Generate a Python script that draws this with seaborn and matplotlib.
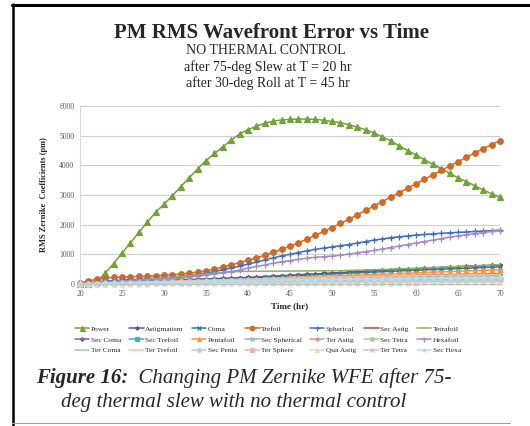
import matplotlib
matplotlib.use("Agg")
import matplotlib.pyplot as plt
import seaborn as sns
from matplotlib.lines import Line2D

# ==========================================================
# DATA (one value per hour, t = 20..70)
# ==========================================================
hours = list(range(20, 71))

power = [0, 0, 80, 370, 690, 1040, 1390, 1740, 2080, 2420,
         2690, 2980, 3280, 3580, 3880, 4160, 4400, 4620, 4850, 5060,
         5200, 5320, 5420, 5490, 5530, 5550, 5560, 5560, 5550, 5520,
         5480, 5440, 5370, 5290, 5200, 5090, 4960, 4820, 4660, 4500,
         4350, 4190, 4040, 3890, 3730, 3580, 3450, 3310, 3170, 3040,
         2920]
astigmatism = [0, 15, 30, 45, 60, 70, 80, 90, 100, 110,
               120, 130, 140, 150, 160, 170, 180, 190, 200, 210,
               220, 235, 250, 265, 280, 295, 310, 325, 340, 355,
               370, 385, 400, 415, 430, 445, 460, 475, 490, 505,
               515, 530, 545, 555, 570, 580, 595, 605, 615, 625,
               635]
coma = [0, 10, 20, 30, 40, 50, 60, 70, 80, 90,
        100, 110, 120, 130, 140, 150, 160, 170, 180, 190,
        200, 215, 230, 245, 260, 275, 290, 300, 315, 325,
        340, 350, 365, 375, 390, 400, 415, 425, 440, 450,
        460, 475, 485, 495, 510, 520, 530, 545, 555, 565,
        575]
trefoil = [30, 100, 160, 200, 220, 235, 245, 255, 265, 275,
           290, 310, 335, 365, 400, 440, 500, 570, 640, 720,
           800, 880, 970, 1070, 1170, 1270, 1390, 1510, 1640, 1770,
           1900, 2040, 2180, 2330, 2480, 2630, 2780, 2930, 3080, 3230,
           3380, 3530, 3680, 3830, 3980, 4120, 4270, 4420, 4560, 4700,
           4830]
spherical = [10, 40, 70, 95, 115, 130, 145, 160, 175, 190,
             205, 225, 250, 280, 320, 360, 420, 480, 540, 600,
             670, 740, 810, 880, 950, 1000, 1060, 1120, 1170, 1210,
             1250, 1290, 1330, 1380, 1430, 1480, 1520, 1560, 1590, 1620,
             1650, 1670, 1690, 1710, 1725, 1740, 1755, 1770, 1785, 1800,
             1815]
sec_astig = [0, 5, 10, 20, 30, 40, 50, 55, 60, 65,
             70, 75, 80, 85, 90, 95, 100, 110, 120, 130,
             140, 150, 160, 170, 180, 190, 200, 205, 210, 220,
             230, 235, 240, 250, 255, 260, 270, 275, 280, 290,
             295, 300, 305, 310, 315, 320, 325, 330, 335, 340,
             345]
tetrafoil = [0, 20, 40, 60, 80, 100, 120, 140, 160, 180,
             200, 225, 250, 280, 310, 340, 370, 395, 410, 420,
             425, 428, 430, 432, 434, 436, 438, 440, 442, 444,
             446, 450, 458, 466, 474, 482, 492, 502, 512, 522,
             532, 544, 556, 568, 580, 592, 604, 616, 628, 640,
             652]
sec_coma = [0, 5, 15, 25, 35, 45, 50, 55, 60, 65,
            70, 75, 80, 85, 90, 95, 100, 105, 110, 115,
            120, 125, 130, 135, 140, 145, 150, 152, 155, 158,
            160, 163, 166, 169, 172, 175, 177, 179, 181, 183,
            185, 187, 189, 191, 193, 195, 197, 199, 201, 203,
            205]
sec_trefoil = [0, 10, 20, 30, 40, 50, 55, 60, 65, 70,
               75, 80, 85, 90, 95, 100, 108, 116, 124, 132,
               140, 146, 152, 158, 164, 170, 176, 182, 188, 194,
               200, 204, 208, 212, 216, 220, 224, 228, 232, 236,
               240, 243, 246, 249, 252, 255, 258, 261, 264, 267,
               270]
pentafoil = [0, 10, 20, 30, 40, 45, 50, 55, 60, 70,
             80, 85, 90, 100, 110, 120, 130, 140, 145, 150,
             160, 170, 185, 200, 210, 220, 230, 240, 250, 260,
             270, 280, 290, 300, 310, 320, 330, 345, 355, 365,
             380, 390, 400, 410, 420, 430, 440, 450, 460, 470,
             480]
sec_spherical = [0, 10, 18, 26, 34, 40, 45, 50, 55, 60,
                 65, 70, 75, 80, 85, 90, 96, 102, 108, 114,
                 120, 126, 132, 138, 144, 150, 155, 160, 165, 170,
                 175, 178, 181, 184, 187, 190, 193, 196, 199, 202,
                 205, 208, 211, 214, 217, 220, 223, 226, 229, 232,
                 235]
ter_astig = [0, 5, 10, 15, 20, 25, 30, 33, 36, 39,
             42, 45, 48, 51, 54, 57, 60, 64, 68, 72,
             76, 80, 84, 88, 92, 96, 100, 103, 106, 109,
             112, 115, 118, 121, 124, 127, 130, 132, 134, 136,
             138, 140, 142, 144, 146, 148, 150, 152, 154, 156,
             158]
sec_tetra = [0, 4, 8, 12, 16, 20, 24, 27, 30, 33,
             36, 39, 42, 45, 48, 51, 54, 57, 60, 63,
             66, 69, 72, 75, 78, 81, 84, 86, 88, 90,
             92, 94, 96, 98, 100, 102, 104, 106, 108, 110,
             112, 114, 116, 118, 120, 122, 124, 126, 128, 130,
             132]
hexafoil = [10, 30, 50, 70, 85, 100, 110, 120, 130, 145,
            160, 180, 200, 230, 260, 300, 340, 380, 420, 470,
            540, 590, 640, 700, 750, 790, 830, 870, 900, 920,
            940, 970, 1010, 1050, 1090, 1130, 1180, 1230, 1280, 1330,
            1380, 1430, 1480, 1530, 1580, 1620, 1660, 1700, 1735, 1770,
            1800]
ter_coma = [0, 8, 16, 24, 32, 40, 46, 52, 58, 64,
            70, 76, 82, 88, 94, 100, 106, 112, 118, 124,
            130, 136, 142, 148, 154, 160, 165, 170, 175, 180,
            185, 189, 193, 197, 201, 205, 209, 213, 217, 221,
            225, 228, 231, 234, 237, 240, 243, 246, 249, 252,
            255]
ter_trefoil = [0, 10, 20, 30, 40, 50, 58, 66, 74, 82,
               90, 97, 104, 111, 118, 125, 133, 141, 149, 157,
               165, 172, 179, 186, 193, 200, 207, 214, 221, 228,
               235, 240, 245, 250, 255, 260, 265, 270, 275, 280,
               285, 289, 293, 297, 301, 305, 309, 313, 317, 321,
               325]
sec_penta = [0, 6, 12, 18, 24, 30, 35, 40, 45, 50,
             55, 60, 65, 70, 75, 80, 85, 90, 95, 100,
             105, 110, 115, 120, 125, 130, 134, 138, 142, 146,
             150, 153, 156, 159, 162, 165, 168, 171, 174, 177,
             180, 182, 184, 186, 188, 190, 192, 194, 196, 198,
             200]
ter_sphere = [0, 3, 6, 9, 12, 15, 18, 21, 24, 27,
              30, 32, 34, 36, 38, 40, 42, 44, 46, 48,
              50, 52, 54, 56, 58, 60, 62, 64, 66, 68,
              70, 71, 72, 73, 74, 75, 76, 77, 78, 79,
              80, 81, 82, 83, 84, 85, 86, 87, 88, 89,
              90]
qua_astig = [0, 2, 4, 6, 8, 10, 12, 14, 16, 18,
             20, 21, 22, 23, 24, 25, 26, 27, 28, 29,
             30, 31, 32, 33, 34, 35, 36, 37, 38, 39,
             40, 41, 42, 43, 44, 45, 46, 47, 48, 49,
             50, 51, 52, 53, 54, 55, 56, 57, 58, 59,
             60]
ter_tetra = [0, 4, 8, 12, 16, 20, 24, 28, 32, 36,
             40, 43, 46, 49, 52, 55, 58, 61, 64, 67,
             70, 73, 76, 79, 82, 85, 88, 91, 94, 97,
             100, 102, 104, 106, 108, 110, 112, 114, 116, 118,
             120, 122, 124, 126, 128, 130, 132, 134, 136, 138,
             140]
sec_hexa = [0, 6, 12, 18, 24, 30, 36, 42, 48, 54,
            60, 65, 70, 75, 80, 85, 90, 95, 100, 105,
            110, 115, 120, 125, 130, 135, 140, 145, 150, 155,
            160, 163, 166, 169, 172, 175, 178, 181, 184, 187,
            190, 193, 196, 199, 202, 205, 208, 211, 214, 217,
            220]

series_names = ["Power", "Astigmatism", "Coma", "Trefoil", "Spherical", "Sec Astig", "Tetrafoil",
                "Sec Coma", "Sec Trefoil", "Pentafoil", "Sec Spherical", "Ter Astig", "Sec Tetra", "Hexafoil",
                "Ter Coma", "Ter Trefoil", "Sec Penta", "Ter Sphere", "Qua Astig", "Ter Tetra", "Sec Hexa"]
series_values = [power, astigmatism, coma, trefoil, spherical, sec_astig, tetrafoil,
                 sec_coma, sec_trefoil, pentafoil, sec_spherical, ter_astig, sec_tetra, hexafoil,
                 ter_coma, ter_trefoil, sec_penta, ter_sphere, qua_astig, ter_tetra, sec_hexa]

# styles
series_colors = ["#73A13B", "#6A4C9C", "#2A7C98", "#CF6B27", "#3F6FC0", "#B8423F", "#8DB552",
                 "#8064A2", "#4BACC6", "#F79646", "#95B3D7", "#D99694", "#B5D08A", "#A58BC6",
                 "#93CDDD", "#FAC090", "#B9CDE5", "#E6B9B8", "#D7E4BD", "#CCC1DA", "#B7DEE8"]
series_markers = ["^", "*", "x", "o", "+", None, None,
                  "D", "s", "^", "x", "*", "o", "+",
                  None, None, "D", "s", "^", "x", "*"]
series_msize = [4.5, 3.5, 3, 4, 4.5, 0, 0,
                2.5, 3, 3.5, 3, 3.5, 3.5, 4.5,
                0, 0, 3, 3, 3.5, 3, 3.5]

sns.set_style("white")
plt.rcParams["font.family"] = ["Liberation Serif", "DejaVu Serif"]

W, H = 530, 426
fig = plt.figure(figsize=(W / 100, H / 100), dpi=100)
ax = fig.add_axes([80 / W, 1 - 284 / H, 420 / W, 178 / H])

handles = []
for name, vals, col, mk, ms in zip(series_names, series_values, series_colors,
                                   series_markers, series_msize):
    kw = dict(linewidth=1.1, color=col)
    if mk is not None:
        kw.update(marker=mk, markersize=ms, markeredgecolor=col,
                  markerfacecolor=col, markeredgewidth=0.9)
    sns.lineplot(x=hours, y=vals, ax=ax, legend=False, clip_on=False, **kw)
    handles.append(ax.lines[-1])

ax.set_xlim(20, 70)
ax.set_ylim(0, 6000)
ax.set_xticks(range(20, 71, 5))
ax.set_yticks(range(0, 6001, 1000))
ax.grid(axis="y", color="#CFCFCF", linewidth=0.8)
ax.set_axisbelow(True)
for side in ["top", "right"]:
    ax.spines[side].set_visible(False)
ax.spines["left"].set_color("#D9D9D9")
ax.spines["bottom"].set_color("#BFBFBF")
ax.tick_params(axis="both", length=0, labelsize=5.5, labelcolor="#595959", pad=4)

ax.set_xlabel("Time (hr)", fontsize=6.5, fontweight="bold", labelpad=3)
ax.set_ylabel("RMS Zernike  Coefficients (pm)", fontsize=6, fontweight="bold", labelpad=8)

# legend: 3 rows x 7 columns, filled row by row
ncol = 7
order = [r * ncol + c for c in range(ncol) for r in range(3)]
fig.legend([handles[i] for i in order], [series_names[i] for i in order],
           ncol=ncol, loc="center", bbox_to_anchor=(268 / W, 1 - 339.5 / H),
           frameon=False, fontsize=5.4, handlelength=1.9, handletextpad=0.2,
           columnspacing=1.1, labelspacing=0.6, markerscale=0.8)

# titles
fig.text(272 / W, 1 - 33 / H, "PM RMS Wavefront Error vs Time", ha="center", va="center",
         fontsize=15, fontweight="bold")
fig.text(266 / W, 1 - 51 / H, "NO THERMAL CONTROL", ha="center", va="center", fontsize=10)
fig.text(268 / W, 1 - 67 / H, "after 75-deg Slew at T = 20 hr", ha="center", va="center", fontsize=10)
fig.text(268 / W, 1 - 83 / H, "after 30-deg Roll at T = 45 hr", ha="center", va="center", fontsize=10)

# figure caption
t1 = fig.text(36 / W, 1 - 378 / H, "Figure 16:", ha="left", va="center",
              fontsize=15, fontweight="bold", style="italic")
fig.canvas.draw()
bb = t1.get_window_extent(renderer=fig.canvas.get_renderer())
fig.text(bb.x1 / W, 1 - 378 / H, "  Changing PM Zernike WFE after 75-", ha="left", va="center",
         fontsize=15, style="italic")
fig.text(234 / W, 1 - 402 / H, "deg thermal slew with no thermal control", ha="center", va="center",
         fontsize=15, style="italic")

# page frame
fig.add_artist(Line2D([13 / W, 13 / W], [0, 1 - 4 / H], color="black", linewidth=1.8))
fig.add_artist(Line2D([12 / W, 1], [1 - 5 / H, 1 - 5 / H], color="black", linewidth=2.2))
fig.add_artist(Line2D([12 / W, 510 / W], [1 - 423 / H, 1 - 423 / H], color="#A0A0A0", linewidth=0.8))

fig.savefig("out.png", dpi=100)
